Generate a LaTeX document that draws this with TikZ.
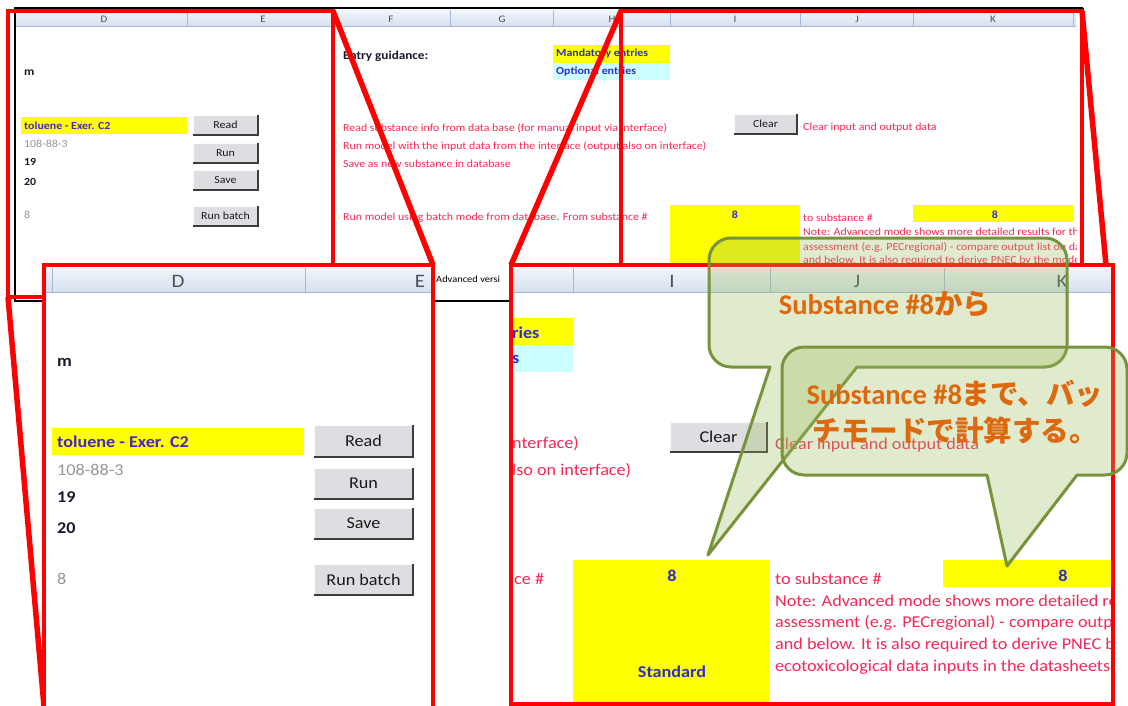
\documentclass[tikz,border=0pt]{standalone}
\usepackage{fontspec}
\setmainfont{Carlito}[FakeStretch=1.1]
\newfontfamily\calloutlatin{Carlito}
\newfontfamily\calloutjp{Noto Sans CJK JP}
\usetikzlibrary{calc}

\definecolor{selred}{RGB}{255,0,0}
\definecolor{notered}{RGB}{246,40,88}
\definecolor{cellyellow}{RGB}{255,255,0}
\definecolor{cellcyan}{RGB}{204,255,255}
\definecolor{entryblue}{RGB}{45,45,215}
\definecolor{namepurple}{RGB}{70,40,190}
\definecolor{casgray}{RGB}{150,150,150}
\definecolor{inkdark}{RGB}{25,25,45}
\definecolor{hdrtop}{RGB}{242,246,251}
\definecolor{hdrbot}{RGB}{212,223,238}
\definecolor{hdrline}{RGB}{165,185,212}
\definecolor{hdrtext}{RGB}{70,80,95}
\definecolor{btnface}{RGB}{222,222,226}
\definecolor{btnshade}{RGB}{60,60,60}
\definecolor{btnhi}{RGB}{250,250,250}
\definecolor{btntext}{RGB}{25,25,25}
\definecolor{calloutfill}{RGB}{155,187,89}
\definecolor{calloutedge}{RGB}{119,147,60}
\definecolor{callouttext}{RGB}{222,104,14}

\tikzset{
  tnorm/.style={inner sep=0pt, anchor=west, font=\fontsize{10.8}{12}\selectfont},
  tbold/.style={tnorm, font=\fontsize{10.8}{12}\selectfont\bfseries},
  lnorm/.style={inner sep=0pt, anchor=west, font=\fontsize{16.5}{19}\selectfont},
  lbold/.style={lnorm, font=\fontsize{16.5}{19}\selectfont\bfseries},
  thead/.style={inner sep=0pt, text=hdrtext, font=\fontsize{10}{11}\selectfont},
  lhead/.style={inner sep=0pt, text=hdrtext, font=\fontsize{19}{21}\selectfont},
  selbox/.style={draw=selred, line width=4pt},
  zoomline/.style={draw=selred, line width=5.5pt},
  panelframe/.style={draw=selred, line width=3.5pt},
  sheetedge/.style={draw=black, line width=2.5pt},
  callout/.style={fill=calloutfill, fill opacity=0.3, draw=calloutedge, line width=3pt, line join=round},
  calltext/.style={text=callouttext, inner sep=0pt, align=center,
    font=\fontsize{28.5}{37}\selectfont\bfseries},
}

% spreadsheet button: name, x1, y1, x2, y2, text style, label, shadow width
\newcommand\xlbutton[8]{%
  \fill[btnface] (#2,#3) rectangle (#4,#5);
  \draw[btnhi, line width=0.8pt] (#2,#5) -- (#2,#3) -- (#4,#3);
  \draw[btnshade, line width=#8] (#4,#3) -- (#4,#5) -- (#2,#5);
  \node[#6, anchor=center, text=btntext] (#1) at ({(#2+#4)/2},{(#3+#5)/2}) {#7};
}
% column header strip: x1, y1, x2, y2
\newcommand\xlheader[4]{%
  \shade[top color=hdrtop, bottom color=hdrbot] (#1,#2) rectangle (#3,#4);
  \draw[hdrline, line width=1pt] (#1,#4) -- (#3,#4);
}
\newcommand\jp[1]{{\calloutjp\bfseries #1}}

\begin{document}
\begin{tikzpicture}[x=1pt, y=-1pt]
\useasboundingbox (0,0) rectangle (1128,706);
\fill[white] (0,0) rectangle (1128,706);

% ---------------- full sheet view ----------------
\begin{scope}
  \clip (15,8) rectangle (1076,301);
  \xlheader{15}{10}{1083}{27}
  \foreach \x in {187,333,450,553,670,800,913,1073}
    \draw[hdrline, line width=0.8pt] (\x,10) -- (\x,27);
  \node[thead] (hD) at (104,19) {D};
  \node[thead] (hE) at (263,19) {E};
  \node[thead] (hF) at (391,19) {F};
  \node[thead] (hG) at (502,19) {G};
  \node[thead] (hH) at (612,19) {H};
  \node[thead] (hI) at (735,19) {I};
  \node[thead] (hJ) at (857,19) {J};
  \node[thead] (hK) at (993,19) {K};

  \fill[cellyellow] (553,45) rectangle (670,63);
  \fill[cellcyan] (553,63) rectangle (670,80);
  \fill[cellyellow] (21,117) rectangle (187,134);
  \fill[cellyellow] (670,205) rectangle (800,265);
  \fill[cellyellow] (913,205) rectangle (1073,222);

  \node[tbold, text=inkdark, font=\fontsize{11.5}{13}\selectfont\bfseries] (tm) at (24,73) {m};
  \node[tbold, text=inkdark, font=\fontsize{12}{14}\selectfont\bfseries] (tEntry) at (343,56) {Entry guidance:};
  \node[tbold, text=entryblue] (tMand) at (556,54) {Mandatory entries};
  \node[tbold, text=entryblue] (tOpt) at (556,72) {Optional entries};
  \node[tbold, text=namepurple] (tName) at (24,126) {toluene - Exer. C2};
  \node[tnorm, text=casgray] (tCas) at (24,144) {108-88-3};
  \node[tbold, text=inkdark] (t19) at (24,162) {19};
  \node[tbold, text=inkdark] (t20) at (24,182) {20};
  \node[tnorm, text=casgray] (t8) at (24,215) {8};

  \xlbutton{tRead}{193}{115}{258}{135}{tnorm}{Read}{1.5pt}
  \xlbutton{tRun}{193}{143}{258}{163}{tnorm}{Run}{1.5pt}
  \xlbutton{tSave}{193}{170}{258}{190}{tnorm}{Save}{1.5pt}
  \xlbutton{tBatch}{193}{206}{258}{226}{tnorm}{Run batch}{1.5pt}
  \xlbutton{tClear}{734}{114}{797}{134}{tnorm}{Clear}{1.5pt}

  \node[tnorm, text=notered] (tReadTxt) at (343,128) {Read substance info from data base (for manual input via interface)};
  \node[tnorm, text=notered] (tRunTxt) at (343,146) {Run model with the input data from the interface (output also on interface)};
  \node[tnorm, text=notered] (tSaveTxt) at (343,164) {Save as new substance in database};
  \node[tnorm, text=notered] (tBatchTxt) at (343,218) {Run model using batch mode from database. From substance \#};
  \node[tnorm, text=notered] (tClearTxt) at (803,128) {Clear input and output data};
  \node[tbold, text=entryblue, anchor=center] (tFrom8) at (735,215) {8};
  \node[tnorm, text=notered] (tToTxt) at (803,218) {to substance \#};
  \node[tbold, text=entryblue, anchor=center] (tTo8) at (995,215) {8};
  \node[tnorm, text=notered] (tNote1) at (803,232) {Note: Advanced mode shows more detailed results for th};
  \node[tnorm, text=notered] (tNote2) at (803,247) {assessment (e.g. PECregional) - compare output list on da};
  \node[tnorm, text=notered] (tNote3) at (803,261) {and below. It is also required to derive PNEC by the mode};
  \node[tnorm, text=black, font=\fontsize{9.5}{11}\selectfont] (tAdv) at (436,279) {Advanced versi};
\end{scope}

% sheet frame
\draw[sheetedge] (1083,8) -- (15,8) -- (15,301) -- (1083,301);
\draw[sheetedge] (1083,8) -- (1083,301);

% selected regions
\coordinate (selLnw) at (8,11);
\coordinate (selLne) at (333,11);
\coordinate (selLsw) at (8,297);
\coordinate (selRnw) at (621,11);
\coordinate (selRne) at (1082,11);
\draw[selbox] (selLnw) rectangle (333,297);
\draw[selbox] (selRnw) rectangle (1082,265);

% enlarged panels: corners
\coordinate (panLnw) at (44,265);
\coordinate (panLne) at (433,265);
\coordinate (panLsw) at (44,706);
\coordinate (panRnw) at (511,265);
\coordinate (panRne) at (1106,265);

% zoom lines
\draw[zoomline] (selLne) -- (panLne);
\draw[zoomline] (selLsw) -- (panLsw);
\draw[zoomline] (selRnw) -- (panRnw);
\draw[zoomline] (selRne) -- (panRne);

% ---------------- enlarged left panel ----------------
\fill[white] (44,265) rectangle (433,712);
\begin{scope}
  \clip (44,265) rectangle (433,712);
  \xlheader{46}{268}{431}{292}
  \draw[hdrline, line width=0.8pt] (52,268) -- (52,292);
  \draw[hdrline, line width=0.8pt] (305,268) -- (305,292);
  \node[lhead] (lhD) at (178,281) {D};
  \node[lhead] (lhE) at (420,281) {E};

  \fill[cellyellow] (52,428) rectangle (304,455);
  \node[lbold, text=inkdark] (lm) at (57,362) {m};
  \node[lbold, text=namepurple] (lName) at (57,442) {toluene - Exer. C2};
  \node[lnorm, text=casgray] (lCas) at (57,470) {108-88-3};
  \node[lbold, text=inkdark] (l19) at (57,497) {19};
  \node[lbold, text=inkdark] (l20) at (57,528) {20};
  \node[lnorm, text=casgray] (l8) at (57,579) {8};

  \xlbutton{lRead}{314}{425}{413}{457}{lnorm}{Read}{2.5pt}
  \xlbutton{lRun}{314}{468}{413}{499}{lnorm}{Run}{2.5pt}
  \xlbutton{lSave}{314}{508}{413}{539}{lnorm}{Save}{2.5pt}
  \xlbutton{lBatch}{314}{564}{413}{595}{lnorm}{Run batch}{2.5pt}
\end{scope}
\draw[panelframe] (44,712) -- (panLnw) -- (panLne) -- (433,712);

% ---------------- enlarged right panel ----------------
\fill[white] (511,265) rectangle (1113,704);
\begin{scope}
  \clip (511,265) rectangle (1113,704);
  \xlheader{513}{268}{1111}{292}
  \foreach \x in {573,770,944}
    \draw[hdrline, line width=0.8pt] (\x,268) -- (\x,292);
  \node[lhead] (rhI) at (672,281) {I};
  \node[lhead] (rhJ) at (857,281) {J};
  \node[lhead] (rhK) at (1062,281) {K};

  \fill[cellyellow] (511,318) rectangle (573,345);
  \fill[cellcyan] (511,345) rectangle (573,372);
  \fill[cellyellow] (573,560) rectangle (769,706);
  \fill[cellyellow] (943,560) rectangle (1113,587);

  \node[lbold, text=entryblue] (rRies) at (512,333) {ries};
  \node[lbold, text=entryblue] (rS) at (512,359) {s};
  \node[lnorm, text=notered] (rIface1) at (512,444) {nterface)};
  \node[lnorm, text=notered] (rIface2) at (512,471) {lso on interface)};
  \xlbutton{rClear}{670}{422}{767}{452}{lnorm}{Clear}{2.5pt}
  \node[lnorm, text=notered] (rClearTxt) at (775,445) {Clear input and output data};
  \node[lnorm, text=notered] (rFromTxt) at (514,579) {ce \#};
  \node[lbold, text=entryblue, anchor=center] (rFrom8) at (672,576) {8};
  \node[lbold, text=entryblue, anchor=center] (rMode) at (672,672) {Standard};
  \node[lnorm, text=notered] (rToTxt) at (775,579) {to substance \#};
  \node[lbold, text=entryblue, anchor=center] (rTo8) at (1063,576) {8};
  \node[lnorm, text=notered] (rNote1) at (775,601) {Note: Advanced mode shows more detailed re};
  \node[lnorm, text=notered] (rNote2) at (775,623) {assessment (e.g. PECregional) - compare outp};
  \node[lnorm, text=notered] (rNote3) at (775,645) {and below. It is also required to derive PNEC b};
  \node[lnorm, text=notered] (rNote4) at (775,667) {ecotoxicological data inputs in the datasheets};
\end{scope}
\draw[panelframe] (panRnw) rectangle (1113,704);

% ---------------- speech callouts ----------------
\path[callout]
  (770,367) -- (708,555) -- (857,367) -- (1045,367)
  .. controls (1057,367) and (1067,357) .. (1067,345) -- (1067,260)
  .. controls (1067,248) and (1057,238) .. (1045,238) -- (731,238)
  .. controls (719,238) and (709,248) .. (709,260) -- (709,345)
  .. controls (709,357) and (719,367) .. (731,367) -- cycle;
\node[calltext] (call1) at (885,304)
  {{\calloutlatin Substance \#8}\jp{から}};

\path[callout]
  (987,475) -- (1007,566) -- (1077,475) -- (1105,475)
  .. controls (1117,475) and (1127,465) .. (1127,453) -- (1127,369)
  .. controls (1127,357) and (1117,347) .. (1105,347) -- (804,347)
  .. controls (792,347) and (782,357) .. (782,369) -- (782,453)
  .. controls (782,465) and (792,475) .. (804,475) -- cycle;
\node[calltext] (call2) at (955,412)
  {{\calloutlatin Substance \#8}\jp{まで、バッ}\\\jp{チモードで計算する。}};
\end{tikzpicture}
\end{document}
